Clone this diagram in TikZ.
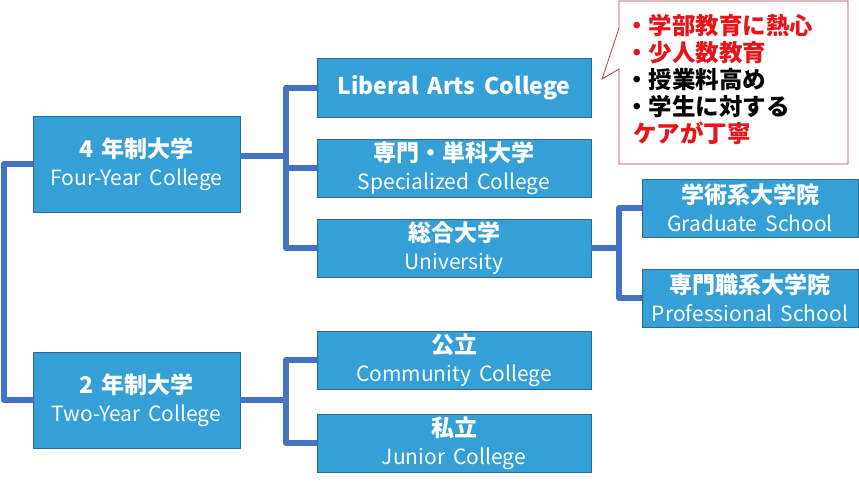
\documentclass[tikz,border=0pt]{standalone}
\usepackage{fontspec}
\setmainfont[WordSpace=1.7]{Noto Sans CJK JP}
\definecolor{boxfill}{RGB}{52,160,215}
\definecolor{boxline}{RGB}{40,105,150}
\definecolor{linkblue}{RGB}{68,114,196}
\definecolor{notered}{RGB}{232,20,25}
\definecolor{noteline}{RGB}{190,55,70}
\newcommand{\jp}[1]{{\fontsize{23}{28}\selectfont\bfseries #1}}
\newcommand{\en}[1]{{\fontsize{21}{28}\selectfont #1}}
\begin{document}
\begin{tikzpicture}[x=1pt,y=-1pt,
    box/.style={draw=boxline,fill=boxfill,text=white,align=center,inner sep=0pt,
        line width=0.8pt,font=\fontsize{21}{28}\selectfont},
    link/.style={draw=linkblue,line width=6pt,line join=round}]
    \useasboundingbox (0,0) rectangle (859,488);

    % left column
    \node[box,minimum width=207,minimum height=96] (four) at (136.5,164) {\jp{4 年制大学}\\\en{Four-Year College}};
    \node[box,minimum width=207,minimum height=96] (two) at (136.5,400) {\jp{2 年制大学}\\\en{Two-Year College}};

    % middle column
    \node[box,minimum width=274,minimum height=59] (lib) at (454,87.5) {\jp{Liberal Arts College}};
    \node[box,minimum width=274,minimum height=58] (spec) at (454,168) {\jp{専門・単科大学}\\\en{Specialized College}};
    \node[box,minimum width=274,minimum height=58] (univ) at (454,248) {\jp{総合大学}\\\en{University}};
    \node[box,minimum width=274,minimum height=58] (comm) at (454,360) {\jp{公立}\\\en{Community College}};
    \node[box,minimum width=274,minimum height=58] (jun) at (454,443) {\jp{私立}\\\en{Junior College}};

    % right column
    \node[box,minimum width=216,minimum height=58] (grad) at (750,208) {\jp{学術系大学院}\\\en{Graduate School}};
    \node[box,minimum width=216,minimum height=58] (prof) at (750,298) {\jp{専門職系大学院}\\\en{Professional School}};

    \coordinate (fourJ) at (286,156);
    \coordinate (twoJ) at (286,400);
    \coordinate (univJ) at (619,248);

    \draw[link] (four.west) -- ++(-29,0) |- (two.west);
    \draw[link] (four.east |- fourJ) -- (fourJ);
    \draw[link] (lib.west) -| (fourJ) |- (univ.west);
    \draw[link] (fourJ |- spec.west) -- (spec.west);
    \draw[link] (two.east) -- (twoJ);
    \draw[link] (comm.west) -| (twoJ) |- (jun.west);
    \draw[link] (univ.east) -- (univJ);
    \draw[link] (grad.west) -| (univJ) |- (prof.west);

    % callout
    \draw[noteline,fill=white,line width=0.8pt] (619,1) -- (848,1) -- (848,164) -- (619,164)
        -- (619,69) -- (602,79) -- (619,28) -- cycle;
    \node[anchor=north west,inner sep=0pt,align=left,font=\fontsize{23.5}{27}\selectfont\bfseries] (note) at (625,14)
        {\textcolor{notered}{・学部教育に熱心}\\\textcolor{notered}{・少人数教育}\\・授業料高め\\・学生に対する\\\textcolor{notered}{\hspace{0.35em}ケアが丁寧}};
\end{tikzpicture}
\end{document}
